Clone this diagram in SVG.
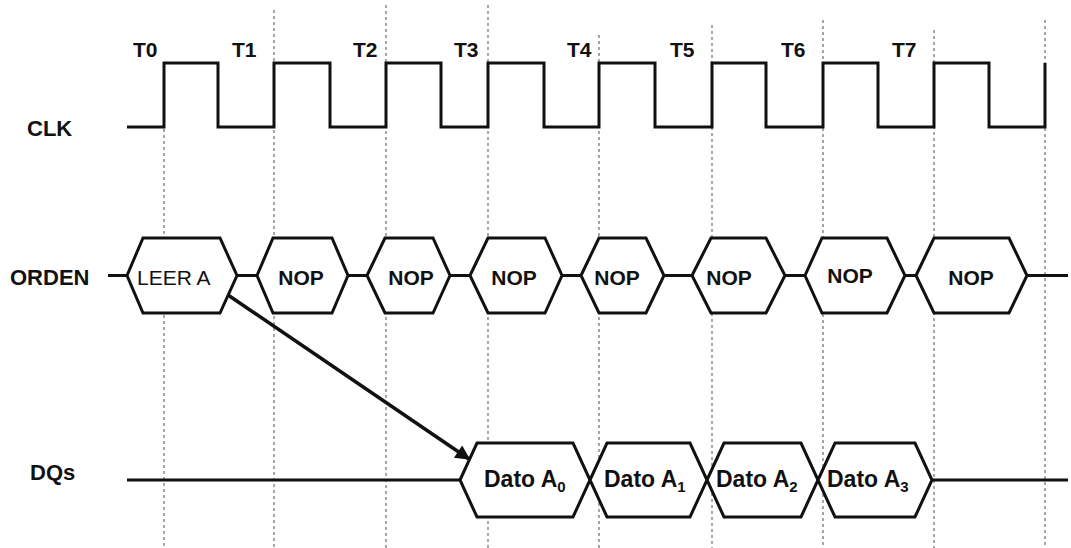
<svg xmlns="http://www.w3.org/2000/svg" width="1071" height="548" viewBox="0 0 1071 548">
<defs>
<style>
.grid{stroke:#8a8a8a;stroke-width:1.5;stroke-dasharray:3,3;fill:none}
.wave{stroke:#111;stroke-width:3;fill:none;stroke-linejoin:miter}
.hex{stroke:#111;stroke-width:3;fill:#fff;stroke-linejoin:miter}
.lbl{font-family:"Liberation Sans",Arial,sans-serif;font-weight:bold;font-size:21px;fill:#111}
.row{font-family:"Liberation Sans",Arial,sans-serif;font-weight:bold;font-size:22px;fill:#111}
.dat{font-family:"Liberation Sans",Arial,sans-serif;font-weight:bold;font-size:23px;fill:#111}
.reg{font-family:"Liberation Sans",Arial,sans-serif;font-size:21px;fill:#111}
.sub{font-size:15px}
</style>
<marker id="ah" viewBox="0 0 10 10" refX="9" refY="5" markerWidth="5" markerHeight="4.2" markerUnits="strokeWidth" orient="auto">
<path d="M0,0 L10,5 L0,10 z" fill="#111"/>
</marker>
</defs>
<rect width="1071" height="548" fill="#fff"/>
<g id="gridlines">
<line class="grid" x1="164" y1="63" x2="164" y2="548"/>
<line class="grid" x1="274" y1="10" x2="274" y2="548"/>
<line class="grid" x1="386" y1="5" x2="386" y2="548"/>
<line class="grid" x1="488" y1="5" x2="488" y2="548"/>
<line class="grid" x1="599" y1="35" x2="599" y2="548"/>
<line class="grid" x1="712" y1="25" x2="712" y2="548"/>
<line class="grid" x1="823" y1="20" x2="823" y2="548"/>
<line class="grid" x1="934" y1="30" x2="934" y2="548"/>
<line class="grid" x1="1045" y1="20" x2="1045" y2="548"/>
</g>
<g id="labels">
<text class="row" x="27" y="136">CLK</text>
<text class="row" x="10" y="285">ORDEN</text>
<text class="row" x="30" y="480">DQs</text>
<text class="lbl" x="133" y="57">T0</text>
<text class="lbl" x="232" y="57">T1</text>
<text class="lbl" x="353" y="57">T2</text>
<text class="lbl" x="454" y="57">T3</text>
<text class="lbl" x="567" y="57">T4</text>
<text class="lbl" x="670" y="57">T5</text>
<text class="lbl" x="781" y="57">T6</text>
<text class="lbl" x="892" y="57">T7</text>
</g>
<g id="clk">
<path class="wave" d="M127,127 H164 V63 H218 V127 H274 V63 H330 V127 H386 V63 H441 V127 H488 V63 H544 V127 H599 V63 H655 V127 H712 V63 H766 V127 H823 V63 H878 V127 H934 V63 H989 V127 H1045 V63"/>
</g>
<g id="orden-line">
<path class="wave" d="M108,275.5 H127 M237,275.5 H257 M348,275.5 H367 M450,275.5 H470 M562,275.5 H581 M664,275.5 H692 M785,275.5 H805 M905,275.5 H916 M1027,275.5 H1068"/>
</g>
<g id="leer-a">
<polygon class="hex" points="127,275.5 143,238 220,238 237,275.5 220,313 143,313"/>
<text class="reg" x="137" y="285">LEER A</text>
</g>
<g id="nop1">
<polygon class="hex" points="257,275.5 273,238 332,238 348,275.5 332,313 273,313"/>
<text class="lbl" x="301" y="285" text-anchor="middle">NOP</text>
</g>
<g id="nop2">
<polygon class="hex" points="367,275.5 385,238 433,238 450,275.5 433,313 385,313"/>
<text class="lbl" x="411" y="285" text-anchor="middle">NOP</text>
</g>
<g id="nop3">
<polygon class="hex" points="470,275.5 488,238 545,238 562,275.5 545,313 488,313"/>
<text class="lbl" x="514" y="285" text-anchor="middle">NOP</text>
</g>
<g id="nop4">
<polygon class="hex" points="581,275.5 599,238 646,238 664,275.5 646,313 599,313"/>
<text class="lbl" x="617" y="285" text-anchor="middle">NOP</text>
</g>
<g id="nop5">
<polygon class="hex" points="692,275.5 711,238 766,238 785,275.5 766,313 711,313"/>
<text class="lbl" x="729" y="285" text-anchor="middle">NOP</text>
</g>
<g id="nop6">
<polygon class="hex" points="805,275.5 822,238 887,238 905,275.5 887,313 822,313"/>
<text class="lbl" x="850" y="283" text-anchor="middle">NOP</text>
</g>
<g id="nop7">
<polygon class="hex" points="916,275.5 934,238 1009,238 1027,275.5 1009,313 934,313"/>
<text class="lbl" x="971" y="285" text-anchor="middle">NOP</text>
</g>
<g id="dqs-line">
<path class="wave" d="M127,480 H460 M932,480 H1068"/>
</g>
<g id="dato-a0">
<polygon class="hex" points="460,480 477,443 573,443 590,480 573,517 477,517"/>
<text class="dat" x="484" y="487">Dato A<tspan class="sub" dy="5">0</tspan></text>
</g>
<g id="dato-a1">
<polygon class="hex" points="590,480 607,443 690,443 707,480 690,517 607,517"/>
<text class="dat" x="604" y="487">Dato A<tspan class="sub" dy="5">1</tspan></text>
</g>
<g id="dato-a2">
<polygon class="hex" points="707,480 724,443 801,443 818,480 801,517 724,517"/>
<text class="dat" x="716" y="487">Dato A<tspan class="sub" dy="5">2</tspan></text>
</g>
<g id="dato-a3">
<polygon class="hex" points="818,480 835,443 915,443 932,480 915,517 835,517"/>
<text class="dat" x="827" y="487">Dato A<tspan class="sub" dy="5">3</tspan></text>
</g>
<g id="connectors">
<line x1="228" y1="295" x2="469" y2="459" stroke="#111" stroke-width="3.5" marker-end="url(#ah)"/>
</g>
</svg>
